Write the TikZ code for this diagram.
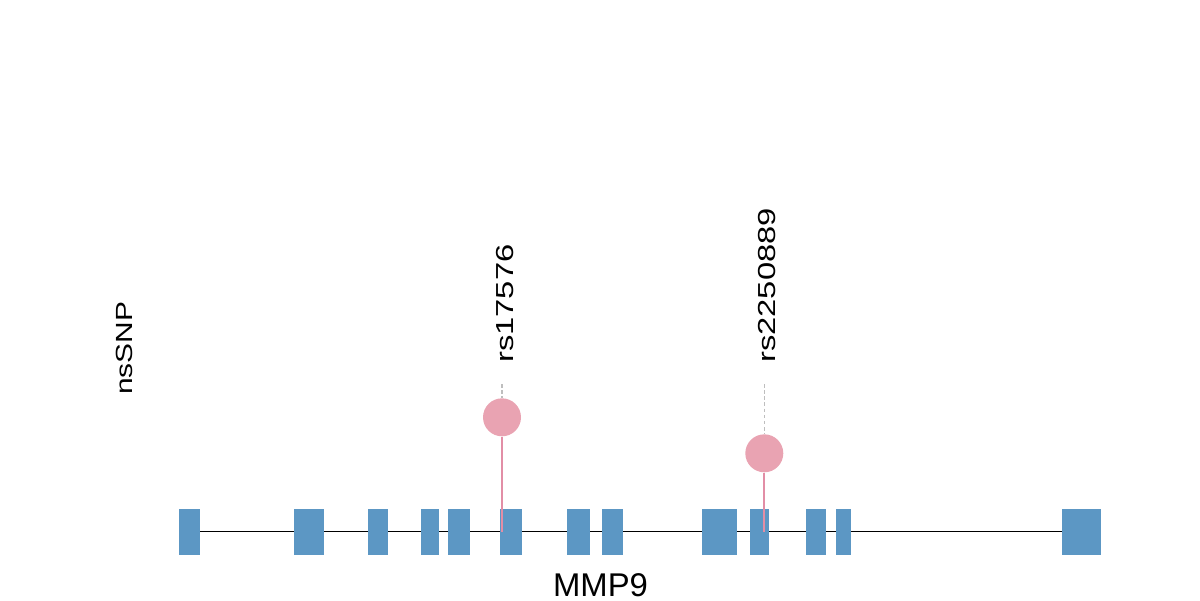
\documentclass[tikz,border=0pt]{standalone}
\usepackage{fontspec}
\setmainfont{Liberation Sans}
\usepackage{graphicx}
\usetikzlibrary{calc}
\definecolor{exonblue}{RGB}{92,151,196}
\definecolor{snppink}{RGB}{233,163,178}
\definecolor{stempink}{RGB}{226,142,166}
\definecolor{guidegray}{RGB}{190,190,190}

\begin{document}
\begin{tikzpicture}[x=0.02cm,y=-0.02cm,
    exon/.style={fill=exonblue},
    snp/.style={circle,fill=snppink,inner sep=0pt,minimum size=0.76cm},
    stem/.style={draw=stempink,line width=1.1pt},
    guide/.style={draw=guidegray,line width=0.8pt,dash pattern=on 2pt off 1.5pt},
    snplabel/.style={rotate=90,anchor=base west,inner sep=0pt}]
  \useasboundingbox (0,0) rectangle (1200,600);

  % gene backbone
  \coordinate (start) at (199,531.7);
  \coordinate (end) at (1062,531.7);
  \draw[line width=0.8pt] (start) -- (end);
  \foreach \a / \b in {179/199.5, 294/324, 368/388, 421/438.5, 447.5/470,
                       499.5/522, 567/590, 602/622.5, 701.5/737, 750/769,
                       806/826, 835.5/850.5, 1061.5/1101}
  {
    \path[exon] (\a,508.5) rectangle (\b,555);
  }

  % nsSNP lollipops
  \foreach \name / \x / \y in {rs17576/502/417.3, rs2250889/764.3/453.3}
  {
    \coordinate (base) at (\x,532);
    \coordinate (top) at (\x,384);
    \node(snp) [snp] at (\x,\y) {};
    \path[stem] (snp) -- (base);
    \path[guide] (top) -- (snp);
    \node(snpname) [snplabel] at ($(\x,363)+(11,0)$)
      {\scalebox{1.33}[1]{\fontsize{14}{16}\selectfont \name}};
  }

  \node(track) [snplabel] at (132,395)
    {\scalebox{1.28}[1]{\fontsize{13.3}{16}\selectfont nsSNP}};
  \node(gene) [anchor=base,inner sep=0pt] at (600.5,596)
    {\fontsize{18.7}{22}\selectfont MMP9};
\end{tikzpicture}
\end{document}
